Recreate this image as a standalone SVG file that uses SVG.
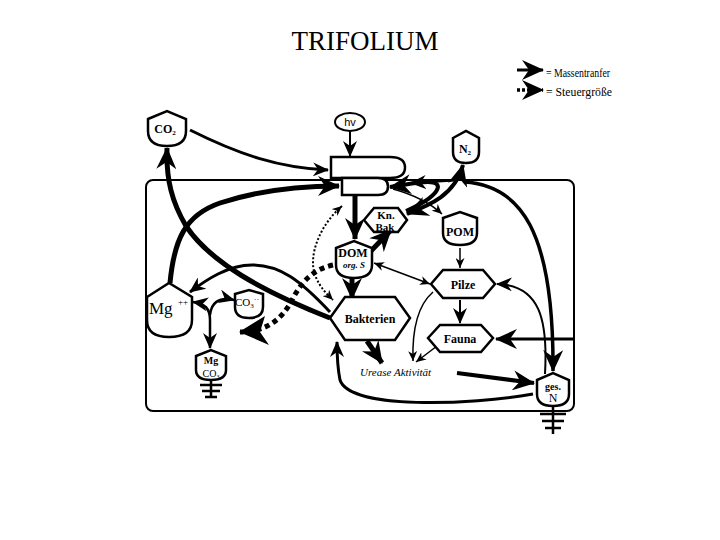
<svg xmlns="http://www.w3.org/2000/svg" width="720" height="540" viewBox="0 0 720 540">
<defs>
<style>
.n{fill:#fff;stroke:#000;stroke-width:2.5}
.t{font-family:"Liberation Serif","Times New Roman",serif;fill:#000;text-anchor:middle}
.b{font-weight:bold}
.c{fill:none;stroke:#000;stroke-linecap:butt}
.g{stroke:#000;stroke-width:2.5;fill:none}
</style>
<marker id="big" markerUnits="userSpaceOnUse" markerWidth="22" markerHeight="20" viewBox="0 0 22 20" refX="21" refY="10" orient="auto-start-reverse"><path d="M0,0 L22,10 L0,20 L7,10 Z" fill="#000"/></marker>
<marker id="med" markerUnits="userSpaceOnUse" markerWidth="16" markerHeight="14" viewBox="0 0 16 14" refX="15" refY="7" orient="auto-start-reverse"><path d="M0,0 L16,7 L0,14 L5,7 Z" fill="#000"/></marker>
<marker id="sm" markerUnits="userSpaceOnUse" markerWidth="10" markerHeight="9" viewBox="0 0 10 9" refX="10" refY="4.5" orient="auto-start-reverse"><path d="M0,0 L10,4.5 L0,9 L3,4.5 Z" fill="#000"/></marker>
<marker id="tri" markerUnits="userSpaceOnUse" markerWidth="30" markerHeight="30" viewBox="0 0 30 30" refX="29" refY="13" orient="auto"><path d="M0,0 L30,13 L4,29 L9,13 Z" fill="#000"/></marker>
</defs>
<rect width="720" height="540" fill="#fff"/>
<text class="t" x="365" y="50" font-size="27">TRIFOLIUM</text>

<g id="legend">
<path class="c" d="M517 70 L543 70" stroke-width="3" marker-end="url(#big)"/>
<path class="c" d="M517 90 L543 90" stroke-width="3.5" stroke-dasharray="3 2" marker-end="url(#big)"/>
<text x="546" y="77" font-family="Liberation Serif,serif" font-size="12" textLength="64" lengthAdjust="spacingAndGlyphs">= Massentranfer</text>
<text x="546" y="96" font-family="Liberation Serif,serif" font-size="12" textLength="66" lengthAdjust="spacingAndGlyphs">= Steuergröße</text>
</g>

<g id="box"><rect x="146" y="180" width="428" height="231" rx="7" fill="none" stroke="#000" stroke-width="2"/></g>

<g id="connectors">
<path class="c" d="M190 130 C240 155 280 168 328 170" stroke-width="3" marker-end="url(#med)"/>
<path class="c" d="M350 131 L350 156" stroke-width="2" marker-end="url(#med)"/>
<path class="c" d="M170 283 C174 240 185 215 220 203 C260 190 300 186 339 186" stroke-width="5" marker-end="url(#big)"/>
<path class="c" d="M330 318 C260 290 210 262 186 226 C172 202 166 180 167 148" stroke-width="5" marker-end="url(#big)"/>
<path class="c" d="M355 195 L355 239" stroke-width="5" marker-end="url(#big)"/>
<path class="c" d="M370 252 L391 230" stroke-width="5" marker-end="url(#big)"/>
<path class="c" d="M352 276 L352 299" stroke-width="5" marker-end="url(#big)"/>
<path class="c" d="M407 214 C430 205 455 195 463 165" stroke-width="4" marker-start="url(#big)" marker-end="url(#big)"/>
<path class="c" d="M406 211 C440 196 446 182 428 182 C416 182 405 185 390 187" stroke-width="4" marker-end="url(#big)"/>
<path class="c" d="M458 180 L411 183" stroke-width="2.5" marker-end="url(#med)"/>
<path class="c" d="M393 189 C415 195 430 203 442 214" stroke-width="1.5" marker-end="url(#sm)"/>
<path class="c" d="M464 182 C520 185 554 230 553 371" stroke-width="3.5" marker-end="url(#big)"/>
<path class="c" d="M460 248 L460 268" stroke-width="1.5" marker-end="url(#sm)"/>
<path class="c" d="M460 300 L460 323" stroke-width="2" marker-end="url(#med)"/>
<path class="c" d="M374 263 L430 284" stroke-width="1.5" marker-start="url(#sm)" marker-end="url(#sm)"/>
<path class="c" d="M433 292 C418 305 412 330 413 361" stroke-width="1.5" marker-end="url(#sm)"/>
<path class="c" d="M437 346 L416 362" stroke-width="1.5" marker-end="url(#sm)"/>
<path class="c" d="M367 341 L382 363" stroke-width="5" marker-end="url(#big)"/>
<path class="c" d="M457 373 L534 383" stroke-width="4" marker-end="url(#big)"/>
<path class="c" d="M533 394 C470 405 350 410 340 380 C338 370 337 360 337 342" stroke-width="3" marker-end="url(#med)"/>
<path class="c" d="M545 374 C548 320 540 285 497 284" stroke-width="2" marker-end="url(#med)"/>
<path class="c" d="M575 339 L496 339" stroke-width="3" marker-end="url(#big)"/>
<path class="c" d="M330 312 C300 280 280 265 252 265 C228 265 206 280 190 292" stroke-width="3" marker-end="url(#med)"/>
<path class="c" d="M193 302 C205 304 210 308 210 320 L210 348" stroke-width="2.5" marker-start="url(#med)" marker-end="url(#med)"/>
<path class="c" d="M234 300 C218 296 211 304 210 315" stroke-width="2.5" marker-start="url(#med)"/>
<path class="c" d="M333 265 C310 270 300 285 292 300 C282 320 265 332 240 332" stroke-width="5" stroke-dasharray="5 4" marker-end="url(#tri)"/>
<path class="c" d="M342 206 C320 225 308 255 315 275 C320 288 327 294 333 300" stroke-width="2" stroke-dasharray="2 2" marker-start="url(#sm)" marker-end="url(#sm)"/>
</g>

<g id="chloroplast">
<path class="n" d="M331 157 H390 Q405 157 405 167.5 Q405 178 390 178 H331 Z"/>
<path class="n" d="M342 178 H378 Q388 178 388 186.5 Q388 195 378 195 H342 Z"/>
</g>

<g id="co2">
<path class="n" d="M148 119 L167 111 L186 119 L186 131 Q186 146 167 146 Q148 146 148 131 Z"/>
<text class="t b" x="165" y="133" font-size="12">CO<tspan font-size="7" dy="2">2</tspan></text>
</g>

<g id="hv">
<ellipse cx="350" cy="122" rx="15" ry="9" fill="#fff" stroke="#000" stroke-width="2"/>
<text x="350" y="126" font-family="Liberation Sans,Arial,sans-serif" font-size="11" text-anchor="middle">hv</text>
</g>

<g id="n2">
<path class="n" d="M453 138 L466 131 L479 138 L479 152 Q479 163 466 163 Q453 163 453 152 Z"/>
<text class="t b" x="465" y="153" font-size="12">N<tspan font-size="7" dy="2">2</tspan></text>
</g>

<g id="knbak">
<polygon class="n" points="364,220 374,208 398,208 407,220 398,232 374,232"/>
<text class="t b" x="386" y="219" font-size="11">Kn.</text>
<text class="t b" x="385" y="231" font-size="11">Bak</text>
</g>

<g id="pom">
<path class="n" d="M443 218 L460 212 L477 218 L477 233 Q477 245 460 245 Q443 245 443 233 Z"/>
<text class="t b" x="460" y="236" font-size="12">POM</text>
</g>

<g id="dom">
<path class="n" d="M336 248 L354 241 L372 248 L372 265 Q372 278 354 278 Q336 278 336 265 Z"/>
<text class="t b" x="353" y="257" font-size="12">DOM</text>
<text class="t b" x="354" y="268" font-size="9" font-style="italic">org. S</text>
</g>

<g id="pilze">
<polygon class="n" points="431,284 443,270 483,270 495,284 483,298 443,298"/>
<text class="t b" x="463" y="289" font-size="12">Pilze</text>
</g>

<g id="bakterien">
<polygon class="n" points="330,318 345,297 395,297 410,318 395,340 345,340"/>
<text class="t b" x="370" y="323" font-size="12">Bakterien</text>
</g>

<g id="fauna">
<polygon class="n" points="428,338 440,325 481,325 493,338 481,352 440,352"/>
<text class="t b" x="460" y="343" font-size="12">Fauna</text>
</g>

<g id="urease">
<text x="360" y="376" font-family="Liberation Serif,serif" font-size="11" font-style="italic">Urease Aktivität</text>
</g>

<g id="mg">
<path class="n" d="M147 297 L169 283 L192 297 L192 320 Q192 337 169 337 Q147 337 147 320 Z"/>
<text x="149" y="314" font-family="Liberation Serif,serif" font-size="17">Mg</text>
<text x="178" y="305" font-family="Liberation Serif,serif" font-size="9">++</text>
</g>

<g id="co3">
<path class="n" d="M235 294 L249 290 L263 294 L263 307 Q263 318 249 318 Q235 318 235 307 Z"/>
<text class="t" x="247" y="306" font-size="11">CO<tspan font-size="7" dy="2">3</tspan><tspan font-size="8" dy="-6">··</tspan></text>
</g>

<g id="mgco3">
<path class="n" d="M196 356 L211 350 L226 356 L226 370 Q226 380 211 380 Q196 380 196 370 Z"/>
<text class="t b" x="211" y="364" font-size="10">Mg</text>
<text class="t" x="211" y="377" font-size="10">CO<tspan font-size="6" dy="2">3</tspan></text>
<path class="g" d="M211 380 V398 M200 385 H222 M202 391 H220 M205 397 H217"/>
</g>

<g id="gesn">
<path class="n" d="M537 380 L553 373 L569 380 L569 394 Q569 406 553 406 Q537 406 537 394 Z"/>
<text class="t b" x="553" y="390" font-size="10">ges.</text>
<text class="t" x="553" y="402" font-size="12">N</text>
<path class="g" d="M553 406 V434 M540 414 H566 M542 421 H564 M545 428 H561"/>
</g>
</svg>
